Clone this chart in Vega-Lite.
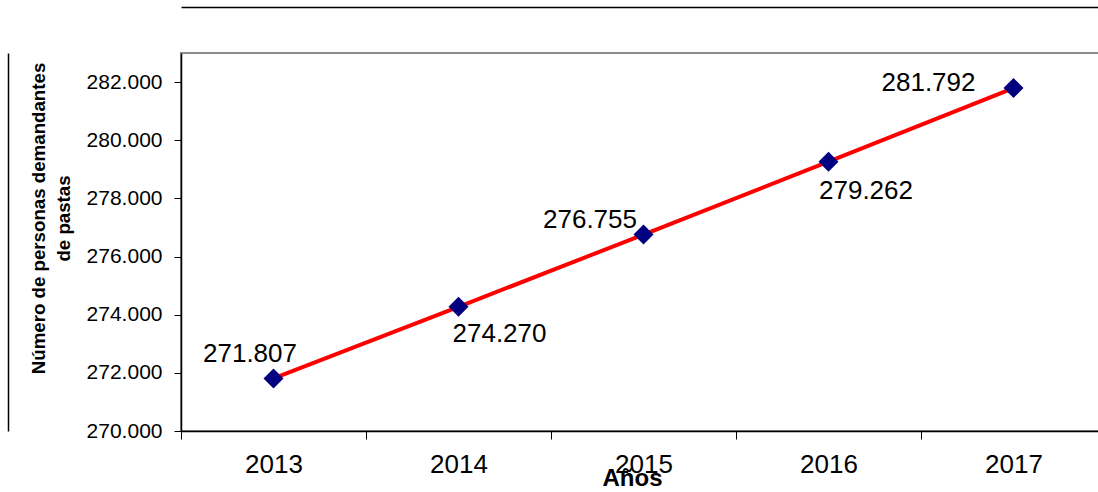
{
  "$schema": "https://vega.github.io/schema/vega-lite/v6.json",
  "width": 925,
  "height": 378,
  "autosize": {"type": "none"},
  "padding": {"left": 181, "top": 53, "right": 0, "bottom": 61},
  "background": "white",
  "config": {
    "font": "Liberation Sans",
    "locale": {
      "number": {"decimal": ",", "thousands": ".", "grouping": [3], "currency": ["", ""]}
    },
    "view": {"stroke": "#8c8c8c", "strokeWidth": 2},
    "axis": {
      "grid": false,
      "domainColor": "#000000",
      "domainWidth": 1.5,
      "tickColor": "#000000",
      "tickWidth": 1,
      "labelColor": "#000000",
      "titleColor": "#000000",
      "labelFont": "Liberation Sans",
      "titleFont": "Liberation Sans"
    },
    "text": {"font": "Liberation Sans", "color": "#000000"}
  },
  "data": {
    "values": [
      {"anio": "2013", "personas": 271807},
      {"anio": "2014", "personas": 274270},
      {"anio": "2015", "personas": 276755},
      {"anio": "2016", "personas": 279262},
      {"anio": "2017", "personas": 281792}
    ]
  },
  "resolve": {"axis": {"x": "independent", "y": "independent"}},
  "encoding": {
    "x": {
      "field": "anio",
      "type": "ordinal",
      "scale": {"type": "band", "paddingInner": 0, "paddingOuter": 0},
      "axis": null
    },
    "y": {
      "field": "personas",
      "type": "quantitative",
      "scale": {"domain": [270000, 283000], "nice": false, "zero": false},
      "axis": null
    }
  },
  "layer": [
    {
      "mark": {"type": "line", "color": "#ff0000", "strokeWidth": 4},
      "encoding": {
        "x": {
          "field": "anio",
          "type": "ordinal",
          "axis": {
            "orient": "top",
            "offset": 46,
            "labels": false,
            "ticks": false,
            "title": null
          }
        },
        "y": {
          "field": "personas",
          "type": "quantitative",
          "axis": {
            "orient": "left",
            "offset": 173,
            "labels": false,
            "ticks": false,
            "title": null
          }
        }
      }
    },
    {
      "mark": {"type": "point", "shape": "diamond", "filled": true, "color": "#000080", "opacity": 1, "size": 400},
      "encoding": {
        "x": {
          "field": "anio",
          "type": "ordinal",
          "axis": {
            "orient": "bottom",
            "title": "Años",
            "labelAngle": 0,
            "labelFontSize": 26,
            "labelPadding": 12,
            "tickSize": 8,
            "tickBand": "extent",
            "titleFontSize": 24,
            "titleFontWeight": "bold",
            "titleX": 451,
            "titleY": 47,
            "titleAlign": "center",
            "titleBaseline": "middle"
          }
        },
        "y": {
          "field": "personas",
          "type": "quantitative",
          "axis": {
            "orient": "left",
            "title": ["Número de personas demandantes", "de pastas"],
            "values": [270000, 272000, 274000, 276000, 278000, 280000, 282000],
            "format": ",d",
            "labelFontSize": 21,
            "labelPadding": 12,
            "tickSize": 7,
            "titleFontSize": 18.7,
            "titleFontWeight": "bold",
            "titleAngle": -90,
            "titleX": -142.5,
            "titleY": 165,
            "titleAlign": "center",
            "titleBaseline": "middle",
            "titleLineHeight": 25
          }
        }
      }
    },
    {
      "transform": [{"filter": "datum.anio == '2013'"}],
      "mark": {"type": "text", "fontSize": 26, "align": "center", "baseline": "middle", "dx": -23.5, "dy": -24},
      "encoding": {"text": {"field": "personas", "type": "quantitative", "format": ",d"}}
    },
    {
      "transform": [{"filter": "datum.anio == '2014'"}],
      "mark": {"type": "text", "fontSize": 26, "align": "center", "baseline": "middle", "dx": 41, "dy": 27.5},
      "encoding": {"text": {"field": "personas", "type": "quantitative", "format": ",d"}}
    },
    {
      "transform": [{"filter": "datum.anio == '2015'"}],
      "mark": {"type": "text", "fontSize": 26, "align": "center", "baseline": "middle", "dx": -53.5, "dy": -15},
      "encoding": {"text": {"field": "personas", "type": "quantitative", "format": ",d"}}
    },
    {
      "transform": [{"filter": "datum.anio == '2016'"}],
      "mark": {"type": "text", "fontSize": 26, "align": "center", "baseline": "middle", "dx": 37.5, "dy": 29},
      "encoding": {"text": {"field": "personas", "type": "quantitative", "format": ",d"}}
    },
    {
      "transform": [{"filter": "datum.anio == '2017'"}],
      "mark": {"type": "text", "fontSize": 26, "align": "center", "baseline": "middle", "dx": -85, "dy": -5},
      "encoding": {"text": {"field": "personas", "type": "quantitative", "format": ",d"}}
    }
  ]
}
